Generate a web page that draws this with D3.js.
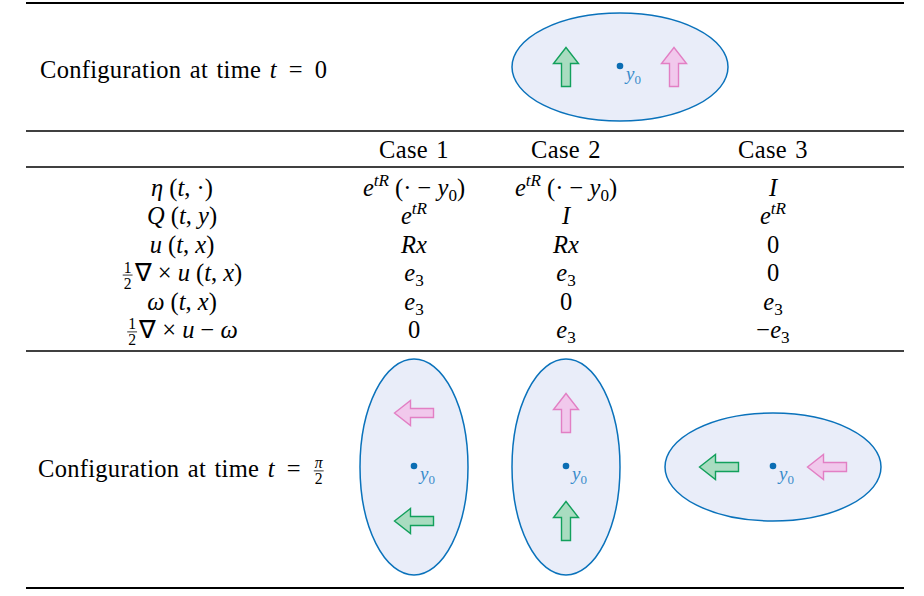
<!DOCTYPE html>
<html>
<head>
<meta charset="utf-8">
<script src="https://cdn.jsdelivr.net/npm/d3@7/dist/d3.min.js"></script>
<style>
  body { margin: 0; background: #fff; }
</style>
</head>
<body>
<svg id="chart" width="924" height="596"></svg>
<script>
'use strict'

// table content ($..$ = math mode, [a/b] = stacked fraction)
const caseNames = ['Case 1', 'Case 2', 'Case 3'];
const rowLabels = ['η (t, ·)', 'Q (t, y)', 'u (t, x)', '[1/2]∇ × u (t, x)', 'ω (t, x)', '[1/2]∇ × u − ω'];
const case1Values = ['e^{tR} (· − y_0)', 'e^{tR}', 'Rx', 'e_3', 'e_3', '0'];
const case2Values = ['e^{tR} (· − y_0)', 'I', 'Rx', 'e_3', '0', 'e_3'];
const case3Values = ['I', 'e^{tR}', '0', '0', 'e_3', '−e_3'];
const startLabel = 'Configuration at time $t\u2002=\u20020$';
const endLabel = 'Configuration at time $t\u2002=\u2002[π/2]$';

// at t = pi/2: turn of the positions (eta) and of the directions (Q), degrees
const positionTurn = [90, 90, 0];
const directionTurn = [90, 0, 90];
// the two marked arrows, place along the major axis (fraction of semi-axis)
const markerNames = ['green', 'pink'];
const markerOffsets = [-0.5, 0.5];

const fontSize = 24.5;
const serif = "'Liberation Serif', 'Times New Roman', serif";
const colours = {
  green: { stroke: '#12a05c', fill: '#a9dcc0' },
  pink: { stroke: '#e27fc4', fill: '#f1c8ec' }
};

const svg = d3.select('#chart')
  .attr('font-family', serif);

const colX = d3.scaleOrdinal()
  .domain(['label'].concat(caseNames))
  .range([182, 414, 566, 773]);
const rowY = d3.scalePoint()
  .domain(rowLabels)
  .range([196, 338]);
const unit = d3.scaleLinear().domain([-1, 1]).range([-108, 108]);

// rules
const rules = [
  { y: 3, w: 2 }, { y: 131, w: 1.6 }, { y: 167, w: 1.6 },
  { y: 351, w: 1.6 }, { y: 588, w: 2 }
];
svg.selectAll('line.rule')
  .data(rules)
  .enter().append('line')
    .attr('class', 'rule')
    .attr('x1', 26).attr('x2', 904)
    .attr('y1', d => d.y).attr('y2', d => d.y)
    .attr('stroke', '#000')
    .attr('stroke-width', d => d.w);

function isLetter(c) {
  return /[A-Za-zα-ωΑ-Ω]/.test(c);
}

// split a string into styled runs, returns runs and final math state
function runsOf(str, math) {
  const runs = [];
  let i = 0;
  while (i < str.length) {
    const c = str[i];
    if (c === '$') { math = !math; i++; continue; }
    if (c === '^' || c === '_') {
      let body;
      if (str[i + 1] === '{') {
        const j = str.indexOf('}', i);
        body = str.slice(i + 2, j);
        i = j + 1;
      } else {
        body = str[i + 1];
        i += 2;
      }
      for (const ch of body) runs.push({ ch, italic: math && isLetter(ch), math, shift: c === '^' ? 'sup' : 'sub' });
      continue;
    }
    runs.push({ ch: c, italic: math && isLetter(c), math, shift: 'base' });
    i++;
  }
  const merged = [];
  runs.forEach(r => {
    const last = merged[merged.length - 1];
    if (last && last.italic === r.italic && last.shift === r.shift && last.math === r.math) last.text += r.ch;
    else merged.push({ text: r.ch, italic: r.italic, math: r.math, shift: r.shift });
  });
  return { runs: merged, math };
}

const shiftY = { base: 0, sup: -10, sub: 5 };

function drawRuns(g, runs, x, size) {
  const t = g.append('text')
    .attr('x', x).attr('y', 0)
    .attr('font-family', serif)
    .attr('font-size', size)
    .style('white-space', 'pre');
  let cur = 0;
  runs.forEach(r => {
    const target = shiftY[r.shift];
    t.append('tspan')
      .attr('dy', target - cur)
      .attr('font-style', r.italic ? 'italic' : 'normal')
      .attr('font-size', r.shift === 'base' ? size : size * 0.7)
      .attr('word-spacing', r.math ? 0 : 2)
      .attr('letter-spacing', r.math ? 0 : 0.3)
      .text(r.text);
    cur = target;
  });
  return t.node().getComputedTextLength();
}

function drawFraction(g, num, den, x, size, math) {
  const fs = size * 0.64;
  const axis = -size * 0.25;
  const a = g.append('text').attr('y', axis - 2.5).attr('font-size', fs)
    .attr('font-family', serif)
    .attr('font-style', math && isLetter(num) ? 'italic' : 'normal').text(num);
  const b = g.append('text').attr('y', axis + 2.5 + fs * 0.7).attr('font-size', fs)
    .attr('font-family', serif)
    .attr('font-style', math && isLetter(den) ? 'italic' : 'normal').text(den);
  const wa = a.node().getComputedTextLength();
  const wb = b.node().getComputedTextLength();
  const w = Math.max(wa, wb) + 2;
  a.attr('x', x + 1 + (w - wa) / 2);
  b.attr('x', x + 1 + (w - wb) / 2);
  g.append('line')
    .attr('x1', x + 1).attr('x2', x + 1 + w)
    .attr('y1', axis).attr('y2', axis)
    .attr('stroke', '#000').attr('stroke-width', 0.8);
  return w + 3;
}

function drawMath(str, x, y, anchor, math) {
  const g = svg.append('g');
  const pieces = str.split(/(\[[^\]]+\])/).filter(p => p.length);
  let off = 0;
  pieces.forEach(p => {
    const frac = p.match(/^\[([^\/]+)\/([^\]]+)\]$/);
    if (frac) {
      off += drawFraction(g, frac[1], frac[2], off, fontSize, math);
    } else {
      const res = runsOf(p, math);
      math = res.math;
      off += drawRuns(g, res.runs, off, fontSize);
    }
  });
  const dx = anchor === 'middle' ? x - off / 2 : x;
  g.attr('transform', `translate(${dx},${y})`);
}

// header
caseNames.forEach(c => drawMath(c, colX(c), 158, 'middle', false));

// body rows
const caseValues = [case1Values, case2Values, case3Values];
rowLabels.forEach((lab, i) => {
  drawMath(lab, colX('label'), rowY(lab), 'middle', true);
  caseNames.forEach((c, k) => drawMath(caseValues[k][i], colX(c), rowY(lab), 'middle', true));
});

drawMath(startLabel, 40, 78, 'start', false);
drawMath(endLabel, 38, 477, 'start', false);

// configuration drawings
const arrowLen = 39, headLen = 16, headHalf = 12.5, shaftHalf = 4.5;
const arrowPoints = [
  [0, -arrowLen / 2], [headHalf, -arrowLen / 2 + headLen], [shaftHalf, -arrowLen / 2 + headLen],
  [shaftHalf, arrowLen / 2], [-shaftHalf, arrowLen / 2], [-shaftHalf, -arrowLen / 2 + headLen],
  [-headHalf, -arrowLen / 2 + headLen]
];
const arrowPath = d3.line()(arrowPoints) + 'Z';

function drawConfig(cx, cy, posTurn, dirTurn) {
  const g = svg.append('g').attr('transform', `translate(${cx},${cy})`);
  g.append('ellipse')
    .attr('rx', unit(1)).attr('ry', unit(0.5))
    .attr('transform', `rotate(${-posTurn})`)
    .attr('fill', '#e9edf9')
    .attr('stroke', '#0a72bb')
    .attr('stroke-width', 1.5);

  const th = posTurn * Math.PI / 180;
  g.selectAll('path.marker')
    .data(markerNames)
    .enter().append('path')
      .attr('class', 'marker')
      .attr('d', arrowPath)
      .attr('transform', (d, i) => {
        const px = unit(markerOffsets[i]);
        const sx = px * Math.cos(th);
        const sy = -px * Math.sin(th);
        return `translate(${sx},${sy}) rotate(${-dirTurn})`;
      })
      .attr('fill', d => colours[d].fill)
      .attr('stroke', d => colours[d].stroke)
      .attr('stroke-width', 1.4)
      .attr('stroke-linejoin', 'miter');

  g.append('circle').attr('r', 3.3).attr('cy', -1).attr('fill', '#0b6db3');
  const lab = g.append('text')
    .attr('x', 6).attr('y', 13)
    .attr('font-family', serif)
    .attr('font-size', 19)
    .attr('font-style', 'italic')
    .attr('fill', '#3a8ccb');
  lab.append('tspan').text('y');
  lab.append('tspan').attr('dy', 4).attr('font-size', 13).attr('font-style', 'normal').text('0');
}

drawConfig(620, 67, 0, 0);
caseNames.forEach((c, k) => drawConfig(colX(c), 467, positionTurn[k], directionTurn[k]));
</script>
</body>
</html>
